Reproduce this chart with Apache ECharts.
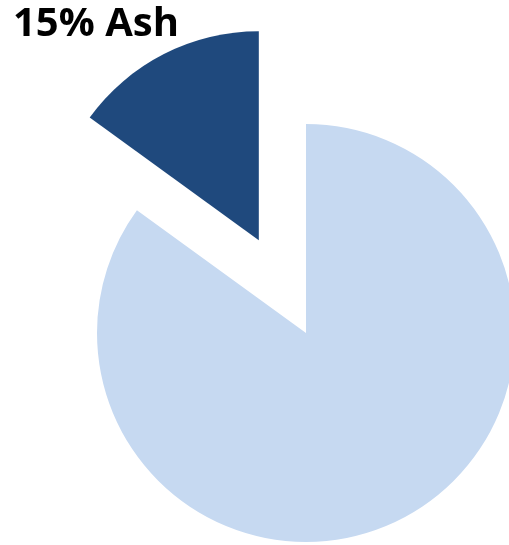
<html>
<head>
<meta charset="utf-8" />
<title>Ash pie</title>
<script src="https://cdn.jsdelivr.net/npm/echarts@6/dist/echarts.min.js"></script>
<style type="text/css">
html, body { margin: 0; padding: 0; background: #fff; }
#main { width: 509px; height: 545px; }
</style>
</head>
<body>
<div id="main"></div>
<script type="text/javascript">
var names = ["Other", "Ash"];
var values = [85, 15];
var colors = ["#C6D9F1", "#1F497D"];

var myChart = echarts.init(document.getElementById("main"));

var option = {
	backgroundColor: "#ffffff",
	animation: false,
	title: {
		text: "15% Ash",
		left: 8,
		top: 0,
		textStyle: {
			fontFamily: "Open Sans",
			fontWeight: "bold",
			fontSize: 40,
			color: "#000"
		}
	},
	series: [{
		type: "pie",
		center: [306, 333],
		radius: 209,
		startAngle: 90,
		clockwise: true,
		selectedMode: "single",
		selectedOffset: 104,
		label: { show: false },
		labelLine: { show: false },
		emphasis: { disabled: true },
		data: names.map(function (n, i) {
			return {
				name: n,
				value: values[i],
				selected: n === "Ash",
				itemStyle: { color: colors[i] }
			};
		})
	}]
};

myChart.setOption(option);
</script>
</body>
</html>
